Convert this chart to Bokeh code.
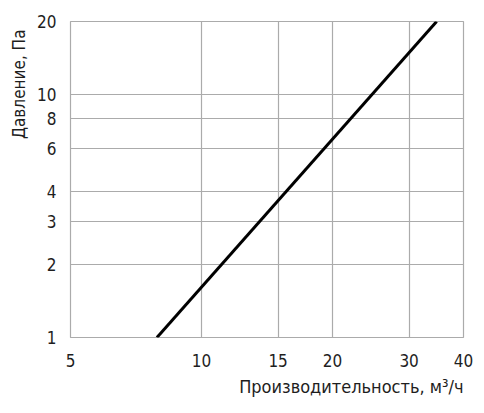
from bokeh.plotting import figure
from bokeh.models import Range1d, FixedTicker, Title, CustomJSTickFormatter
from bokeh.embed import file_html
from bokeh.resources import INLINE

# data
flow = [7.9, 34.7]          # м³/ч
pressure = [1.0, 20.0]      # Па
x_ticks = [5, 10, 15, 20, 30, 40]
y_ticks = [1, 2, 3, 4, 6, 8, 10, 20]
x_title = "Производительность, м³/ч"
y_title = "Давление, Па"

FONT = "'Liberation Sans Narrow', 'Arial Narrow', 'DejaVu Sans Condensed', sans-serif"
TXT = "#1e1e1e"
GRID = "#ababab"

p = figure(width=484, height=413, x_axis_type="log", y_axis_type="log",
           x_range=Range1d(5, 40), y_range=Range1d(1, 20),
           output_backend="svg", toolbar_location=None,
           min_border_left=70, min_border_right=21, min_border_top=21, min_border_bottom=76)

p.line(flow, pressure, line_color="black", line_width=3)

for ax, ticks in ((p.xaxis[0], x_ticks), (p.yaxis[0], y_ticks)):
    ax.ticker = FixedTicker(ticks=ticks)
    ax.formatter = CustomJSTickFormatter(code="return tick.toString();")
    ax.axis_line_color = None
    ax.major_tick_line_color = None
    ax.minor_tick_line_color = None
    ax.major_label_text_font = FONT
    ax.major_label_text_font_size = "17px"
    ax.major_label_text_color = TXT
p.xaxis[0].major_label_standoff = 10
p.yaxis[0].major_label_standoff = 8

p.xgrid.ticker = FixedTicker(ticks=x_ticks)
p.ygrid.ticker = FixedTicker(ticks=y_ticks)
for g in (p.xgrid[0], p.ygrid[0]):
    g.grid_line_color = GRID
    g.grid_line_width = 1.2
    g.grid_line_alpha = 1.0

p.outline_line_color = GRID
p.outline_line_width = 1.2
p.outline_line_alpha = 1.0
p.background_fill_color = "white"
p.border_fill_color = "white"

p.add_layout(Title(text=x_title, align="right", text_font=FONT, text_font_size="18px",
                   text_font_style="normal", text_color=TXT, standoff=8), "below")
p.add_layout(Title(text=y_title, align="right", offset=8, text_font=FONT, text_font_size="17px",
                   text_font_style="normal", text_color=TXT, standoff=11), "left")

open("out.html", "w").write(file_html(p, INLINE))
